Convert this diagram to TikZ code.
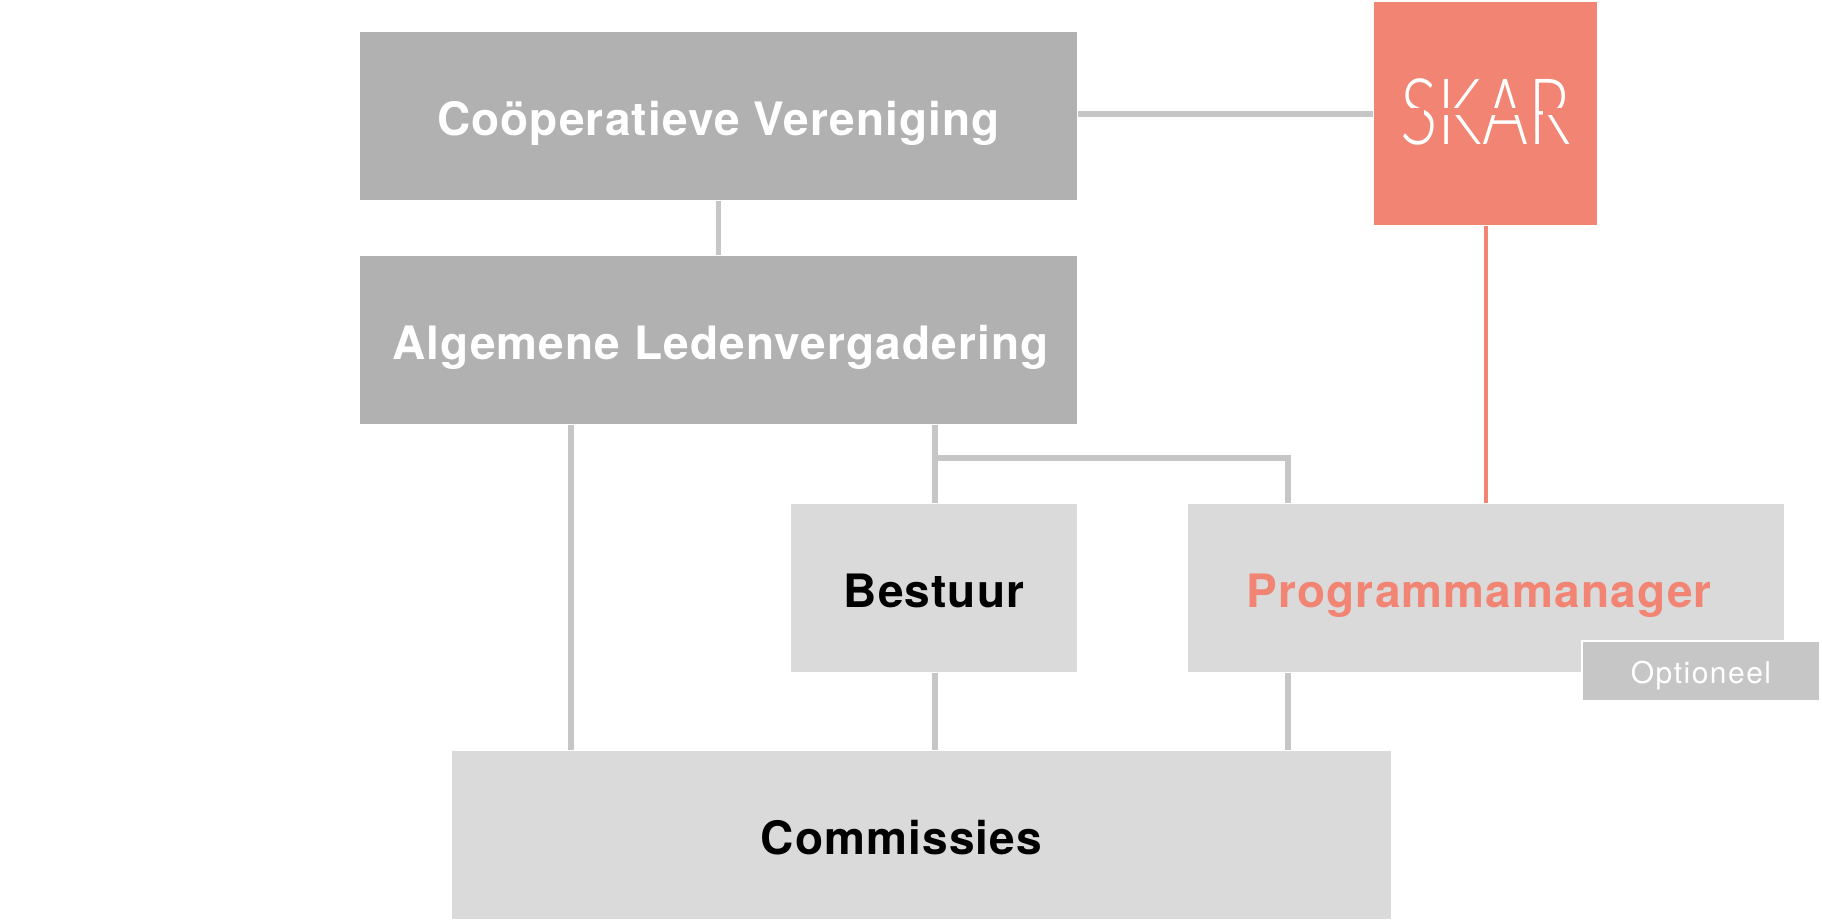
\documentclass[tikz,border=0pt]{standalone}
\usepackage{fontspec}
\setmainfont{TeX Gyre Heros}[LetterSpace=2.5]
\newfontfamily\optiefont{TeX Gyre Heros}[LetterSpace=5]
\newfontfamily\skarfont{Lato Light}
\usetikzlibrary{calc}

\definecolor{donkergrijs}{HTML}{B1B1B1}
\definecolor{lichtgrijs}{HTML}{DADADA}
\definecolor{lijngrijs}{HTML}{C6C6C6}
\definecolor{zalm}{HTML}{F18472}

\begin{document}
\begin{tikzpicture}[x=1pt,y=-1pt,
    blok/.style={anchor=north west, inner sep=0pt, outer sep=0pt, text height=38pt, text depth=0pt, font=\fontsize{46}{50}\selectfont\bfseries},
    donkerblok/.style={blok, fill=donkergrijs, text=white, minimum width=717pt, minimum height=168pt},
    lichtblok/.style={blok, fill=lichtgrijs, minimum height=168pt},
    lijn/.style={draw=lijngrijs, line width=6pt, shorten <=1pt, shorten >=1pt}]

    \useasboundingbox[fill=white] (0,0) rectangle (1822,922);

    % Kolommen
    \coordinate (kolomL) at (571,0);
    \coordinate (kolomM) at (935,0);
    \coordinate (kolomR) at (1288,0);

    % Blokken
    \node[donkerblok] (vereniging) at (360,32) {Coöperatieve Vereniging};
    \node[donkerblok] (alv) at (360,256) {\kern4pt Algemene Ledenvergadering};
    \node[lichtblok, minimum width=286pt] (bestuur) at (791,504) {Bestuur};
    \node[lichtblok, minimum width=596pt, text=zalm] (manager) at (1188,504) {Programmamanager\kern14pt};
    \node[lichtblok, minimum width=939pt] (commissies) at (452,751) {Commissies\kern40pt};
    \node[blok, fill=zalm, text=white, minimum width=223pt, minimum height=223pt, text height=62pt, font=\skarfont\fontsize{92}{92}\selectfont] (skar) at (1374,2) {\scalebox{0.76}[1]{SKAR}};
    \node[blok, fill=lijngrijs, draw=white, line width=2pt, text=white, text height=24pt, minimum width=238pt, minimum height=60pt, font=\optiefont\fontsize{30}{32}\selectfont] (optioneel) at (1582,641) {Optioneel};

    % Sneden in het logo
    \foreach \van/\tot in {-88/-62, -42/-15, -5/40, 57/90}
        \fill[zalm] ($(skar.center)+(\van,-6)$) rectangle ($(skar.center)+(\tot,1)$);

    % Lijnen
    \draw[lijn] (skar.west) -- (skar.west -| vereniging.east);
    \draw[lijn, line width=4.5pt] (vereniging.south) -- (alv.north);
    \draw[lijn] (alv.south -| kolomL) -- (commissies.north -| kolomL);
    \draw[lijn] (alv.south -| kolomM) -- (bestuur.north -| kolomM);
    \coordinate (splitsing) at ($(bestuur.north -| kolomM)+(0,-46)$);
    \draw[lijn, shorten <=0pt] (splitsing) -| (manager.north -| kolomR);
    \draw[lijn] (bestuur.south -| kolomM) -- (commissies.north -| kolomM);
    \draw[lijn] (manager.south -| kolomR) -- (commissies.north -| kolomR);
    \draw[lijn, draw=zalm, line width=4pt] (skar.south) -- (skar.south |- manager.north);

\end{tikzpicture}
\end{document}
